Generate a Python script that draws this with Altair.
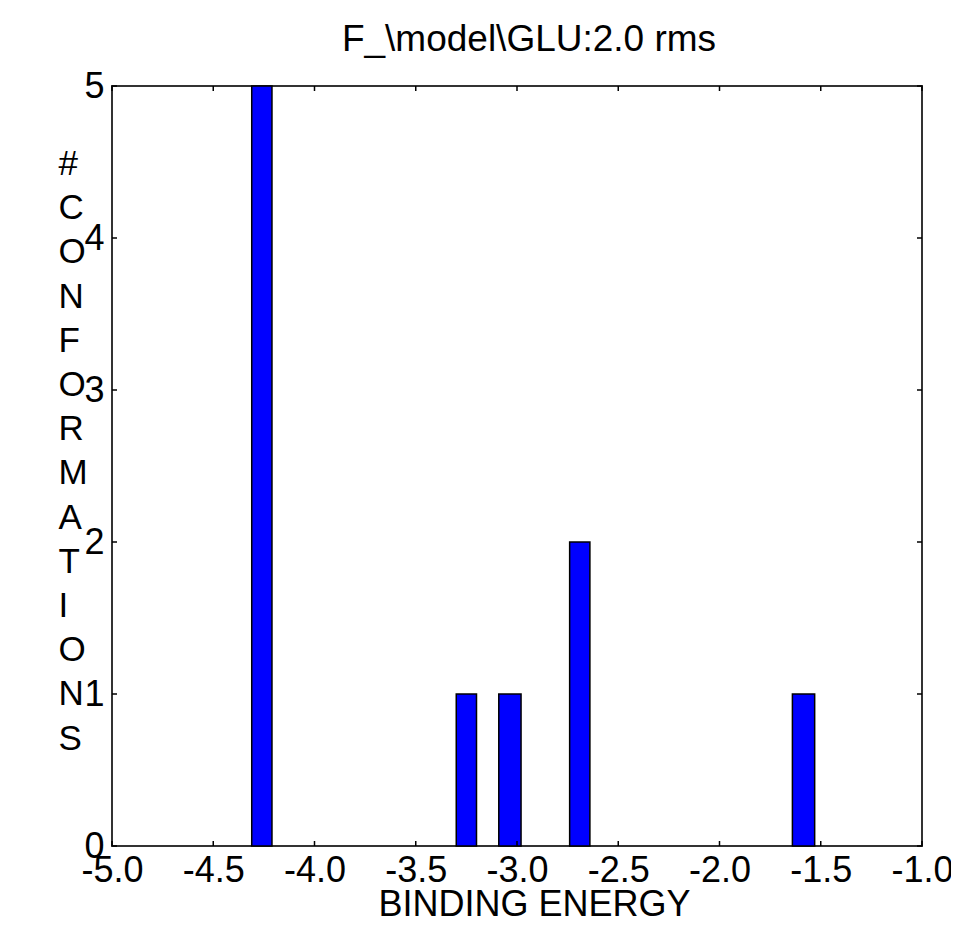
import altair as alt
import pandas as pd

# ---- data ----
bin_start = [-4.31, -3.30, -3.09, -2.74, -1.64]
bin_end = [-4.21, -3.20, -2.98, -2.64, -1.53]
counts = [5, 1, 1, 2, 1]
x_ticks = [-5.0, -4.5, -4.0, -3.5, -3.0, -2.5, -2.0, -1.5, -1.0]
y_ticks = [0, 1, 2, 3, 4, 5]
y_title_letters = list("#CONFORMATIONS")
chart_title = "F_\\model\\GLU:2.0 rms"
x_title = "BINDING ENERGY"

W, H = 810, 760
FONT = "Liberation Sans"

bars_df = pd.DataFrame({"start": bin_start, "end": bin_end, "count": counts})
xt = pd.DataFrame({"v": x_ticks})
yt = pd.DataFrame({"v": y_ticks})

xscale = alt.Scale(domain=[-5, -1], nice=False, zero=False)
yscale = alt.Scale(domain=[0, 5], nice=False, zero=True)

x_axis = alt.Axis(
    values=x_ticks,
    labelExpr="(datum.value < 0 ? '-' : '') + format(abs(datum.value), '.1f')",
    ticks=False, tickSize=0, domain=False, grid=False,
    labelFlush=False, labelFont=FONT, labelFontSize=36, labelColor="black",
    labelPadding=35, labelBaseline="alphabetic", labelAlign="center",
    title=x_title, titleFont=FONT, titleFontSize=36, titleFontWeight="normal",
    titleColor="black", titleX=422, titleY=69, titleBaseline="alphabetic",
    titleAlign="center",
)

y_axis = alt.Axis(
    values=y_ticks, format="d",
    ticks=False, tickSize=0, domain=False, grid=False,
    labelFlush=False, labelFont=FONT, labelFontSize=36, labelColor="black",
    labelPadding=8, labelBaseline="middle", labelAlign="right",
    title=y_title_letters, titleFont=FONT, titleFontSize=35, titleFontWeight="normal",
    titleColor="black", titleAngle=0, titleAlign="left", titleBaseline="alphabetic",
    titleX=-54, titleY=88.5, titleLineHeight=44.2,
)

bars = alt.Chart(bars_df).mark_bar(
    color="#0000FF", stroke="black", strokeWidth=1.5
).encode(
    x=alt.X("start:Q", scale=xscale, axis=x_axis),
    x2="end:Q",
    y=alt.Y("count:Q", scale=yscale, axis=y_axis),
    y2=alt.datum(0),
)

tick_style = dict(color="black", strokeWidth=1.5)
bottom_ticks = alt.Chart(xt).mark_rule(**tick_style).encode(
    x=alt.X("v:Q", scale=xscale, axis=x_axis), y=alt.value(H), y2=alt.value(H - 5)
)
top_ticks = alt.Chart(xt).mark_rule(**tick_style).encode(
    x=alt.X("v:Q", scale=xscale, axis=x_axis), y=alt.value(0), y2=alt.value(5)
)
left_ticks = alt.Chart(yt).mark_rule(**tick_style).encode(
    y=alt.Y("v:Q", scale=yscale, axis=y_axis), x=alt.value(0), x2=alt.value(5)
)
right_ticks = alt.Chart(yt).mark_rule(**tick_style).encode(
    y=alt.Y("v:Q", scale=yscale, axis=y_axis), x=alt.value(W - 5), x2=alt.value(W)
)

chart = alt.layer(
    bars, bottom_ticks, top_ticks, left_ticks, right_ticks
).properties(
    width=W, height=H,
    title=alt.Title(
        chart_title, font=FONT, fontSize=37, fontWeight="normal", color="black",
        anchor="middle", frame="group", baseline="alphabetic", offset=-20, dx=12,
    ),
    autosize=alt.AutoSizeParams(type="none"),
    padding={"left": 104, "top": 78, "right": 29, "bottom": 72},
    background="white",
).configure_view(
    stroke="#333333", strokeWidth=2
)

chart.save("out.html", embed_options={"renderer": "svg", "actions": False})
